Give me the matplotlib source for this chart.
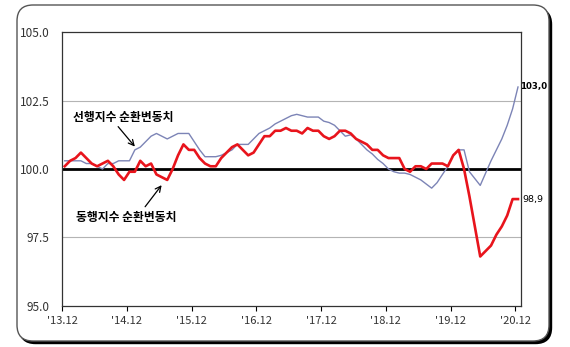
import matplotlib.pyplot as plt
from matplotlib.patches import FancyBboxPatch
import numpy as np

plt.rcParams['font.family'] = ['Noto Sans CJK KR', 'DejaVu Sans']

# monthly data, 2013.12 ~ 2020.12
tick_labels = ["'13.12", "'14.12", "'15.12", "'16.12", "'17.12", "'18.12", "'19.12", "'20.12"]

leading = [100.3, 100.3, 100.3, 100.3, 100.2, 100.2, 100.1, 100.0, 100.2, 100.2,
           100.3, 100.3, 100.3, 100.7, 100.8, 101.0, 101.2, 101.3, 101.2, 101.1,
           101.2, 101.3, 101.3, 101.3, 101.0, 100.7, 100.45, 100.45, 100.45, 100.5,
           100.6, 100.7, 100.9, 100.9, 100.9, 101.1, 101.3, 101.4, 101.5, 101.65,
           101.75, 101.85, 101.95, 102.0, 101.95, 101.9, 101.9, 101.9, 101.75, 101.7,
           101.6, 101.4, 101.2, 101.25, 101.1, 100.9, 100.7, 100.55, 100.35, 100.2,
           100.0, 99.9, 99.85, 99.85, 99.8, 99.7, 99.6, 99.45, 99.3, 99.5,
           99.8, 100.1, 100.5, 100.7, 100.7, 99.9, 99.65, 99.4, 99.85, 100.3,
           100.7, 101.1, 101.6, 102.2, 103.0]

coincident = [100.1, 100.3, 100.4, 100.6, 100.4, 100.2, 100.1, 100.2, 100.3, 100.1,
              99.8, 99.6, 99.9, 99.9, 100.3, 100.1, 100.2, 99.8, 99.7, 99.6,
              100.0, 100.5, 100.9, 100.7, 100.7, 100.4, 100.2, 100.1, 100.1, 100.4,
              100.6, 100.8, 100.9, 100.7, 100.5, 100.6, 100.9, 101.2, 101.2, 101.4,
              101.4, 101.5, 101.4, 101.4, 101.3, 101.5, 101.4, 101.4, 101.2, 101.1,
              101.2, 101.4, 101.4, 101.3, 101.1, 101.0, 100.9, 100.7, 100.7, 100.5,
              100.4, 100.4, 100.4, 100.0, 99.9, 100.1, 100.1, 100.0, 100.2, 100.2,
              100.2, 100.1, 100.5, 100.7, 100.0, 99.0, 97.9, 96.8, 97.0, 97.2,
              97.6, 97.9, 98.3, 98.9, 98.9]

x = np.arange(len(leading))

fig = plt.figure(figsize=(5.7, 3.47), dpi=100)

# rounded frame with shadow, drawn in pixel units
bg = fig.add_axes([0, 0, 1, 1], zorder=-1)
bg.set_xlim(0, 570)
bg.set_ylim(0, 347)
bg.axis('off')
bg.add_patch(FancyBboxPatch((19.5, 3.5), 532, 335, boxstyle='round,pad=0,rounding_size=16',
                            facecolor='black', edgecolor='black', lw=1))
bg.add_patch(FancyBboxPatch((17, 6), 532, 336, boxstyle='round,pad=0,rounding_size=16',
                            facecolor='white', edgecolor='#555555', lw=1))

ax = fig.add_axes([0.1088, 0.119, 0.8047, 0.7879])
ax.set_facecolor('white')

ax.axhline(100, color='black', lw=2, zorder=2)
for g in [97.5, 102.5]:
    ax.axhline(g, color='#b4b4b4', lw=0.8, zorder=1)

ax.plot(x, leading, color='#7c84b6', lw=1.0, zorder=3)
ax.plot(x, coincident, color='#e8141c', lw=1.9, zorder=4)

ax.set_xlim(-0.5, 84.5)
ax.set_ylim(95, 105)
ax.set_yticks([95, 97.5, 100, 102.5, 105])
ax.set_yticklabels(['95.0', '97.5', '100.0', '102.5', '105.0'])
ax.set_xticks(np.arange(-0.5, 84, 12))
ax.set_xticklabels(tick_labels)
ax.tick_params(axis='y', length=0, pad=9, labelsize=8.5, labelcolor='#333333')
ax.tick_params(axis='x', length=3.5, width=0.8, pad=4, labelsize=8, labelcolor='#333333',
               direction='out')
for s in ax.spines.values():
    s.set_color('#333333')
    s.set_linewidth(0.9)

# labels and arrows
ax.text(10.9, 101.9, '선행지수 순환변동치', ha='center', va='center',
        fontsize=8.5, fontweight='bold')
ax.annotate('', xy=(13.0, 100.82), xytext=(9.9, 101.55),
            arrowprops=dict(arrowstyle='->', color='black', lw=0.9,
                            shrinkA=0, shrinkB=0))
ax.text(11.4, 98.23, '동행지수 순환변동치', ha='center', va='center',
        fontsize=8.5, fontweight='bold')
ax.annotate('', xy=(17.96, 99.41), xytext=(14.9, 98.62),
            arrowprops=dict(arrowstyle='->', color='black', lw=0.9,
                            shrinkA=0, shrinkB=0))

ax.text(84.45, leading[-1], '103,0', ha='left', va='center', fontsize=6.2,
        fontweight='bold', family='DejaVu Sans')
ax.text(84.9, coincident[-1], '98,9', ha='left', va='center', fontsize=6.8,
        family='DejaVu Sans')

fig.savefig('out.png', dpi=100)
